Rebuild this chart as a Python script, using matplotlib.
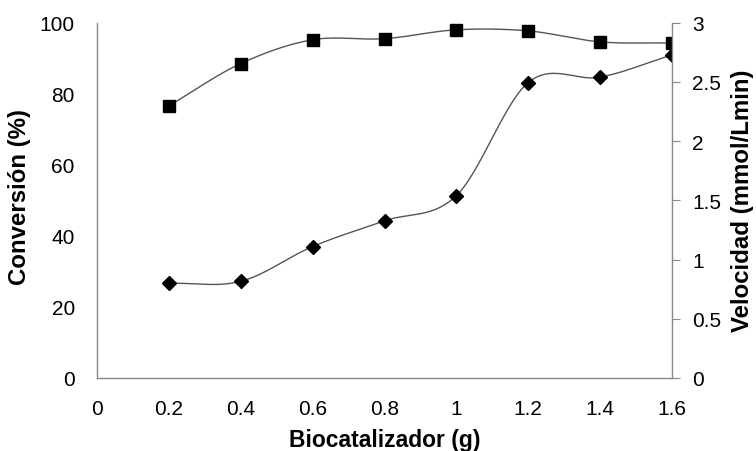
import numpy as np
import matplotlib
matplotlib.use("Agg")
import matplotlib.pyplot as plt

plt.rcParams['font.family'] = ['Liberation Sans', 'DejaVu Sans']

biocat = [0.2, 0.4, 0.6, 0.8, 1.0, 1.2, 1.4, 1.6]
conversion = [76.6, 88.5, 95.2, 95.5, 98.0, 97.7, 94.6, 94.3]
velocidad = [0.80, 0.816, 1.11, 1.327, 1.54, 2.495, 2.54, 2.728]


def smooth(x, y, n=30):
    # catmull-rom style curve through the points (like excel "smoothed line")
    x = np.asarray(x, float)
    y = np.asarray(y, float)
    px = np.concatenate([[2 * x[0] - x[1]], x, [2 * x[-1] - x[-2]]])
    py = np.concatenate([[2 * y[0] - y[1]], y, [2 * y[-1] - y[-2]]])
    xs, ys = [], []
    t = np.linspace(0, 1, n)
    for i in range(1, len(px) - 2):
        p0, p1, p2, p3 = py[i - 1], py[i], py[i + 1], py[i + 2]
        q0, q1, q2, q3 = px[i - 1], px[i], px[i + 1], px[i + 2]
        for arr, a0, a1, a2, a3 in ((xs, q0, q1, q2, q3), (ys, p0, p1, p2, p3)):
            arr.extend(0.5 * (2 * a1 + (-a0 + a2) * t
                              + (2 * a0 - 5 * a1 + 4 * a2 - a3) * t ** 2
                              + (-a0 + 3 * a1 - 3 * a2 + a3) * t ** 3))
    return np.array(xs), np.array(ys)


fig = plt.figure(figsize=(7.56, 4.52), dpi=100)
ax = fig.add_axes([97 / 756, 1 - 379 / 452, (672 - 97) / 756, (379 - 23.7) / 452])
ax2 = ax.twinx()

sx, sy = smooth(biocat, conversion)
ax.plot(sx, sy, color='#555555', lw=1.0)
ax.plot(biocat, conversion, 's', color='black', ms=9, ls='none')

vx, vy = smooth(biocat, velocidad)
ax2.plot(vx, vy, color='#555555', lw=1.0)
ax2.plot(biocat, velocidad, 'D', color='black', ms=7.3, ls='none')

ax.set_xlim(0, 1.6)
ax.set_ylim(0, 100)
ax2.set_ylim(0, 3)
ax.set_xticks(np.arange(0, 1.61, 0.2))
ax.set_xticklabels(['0', '0.2', '0.4', '0.6', '0.8', '1', '1.2', '1.4', '1.6'])
ax.set_yticks(range(0, 101, 20))
ax2.set_yticks([0, 0.5, 1, 1.5, 2, 2.5, 3])
ax2.set_yticklabels(['0', '0.5', '1', '1.5', '2', '2.5', '3'])

for a in (ax, ax2):
    a.spines['top'].set_visible(False)
    for s in a.spines.values():
        s.set_color('#888888')
        s.set_linewidth(1.0)
ax.spines['right'].set_visible(False)
ax2.spines['left'].set_visible(False)
ax2.spines['bottom'].set_visible(False)

ax.tick_params(axis='x', length=0, labelsize=15, pad=15)
ax.tick_params(axis='y', length=0, labelsize=15, pad=16)
ax2.tick_params(axis='y', length=5.5, color='#888888', labelsize=15, pad=9)

# axis titles
fig.text(385 / 756, 1 - 441 / 452, 'Biocatalizador (g)', fontsize=16.5,
         fontweight='bold', ha='center', va='center')
fig.text(20 / 756, 1 - 197 / 452, 'Conversión (%)', fontsize=17.3,
         fontweight='bold', ha='center', va='center', rotation=90)
fig.text(742 / 756, 1 - 201 / 452, 'Velocidad (mmol/Lmin)', fontsize=17.3,
         fontweight='bold', ha='center', va='center', rotation=90)

fig.savefig('out.png', dpi=100)
